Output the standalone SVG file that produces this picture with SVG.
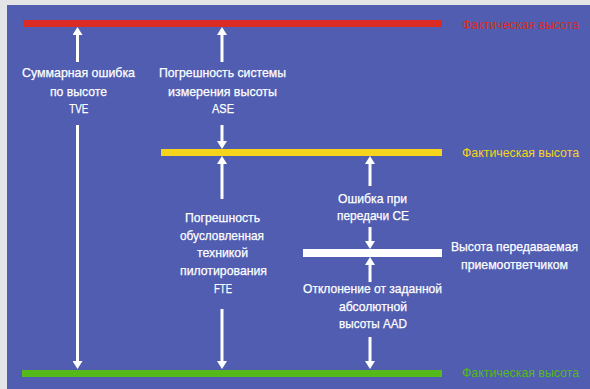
<svg xmlns="http://www.w3.org/2000/svg" width="590" height="389" viewBox="0 0 590 389">
<defs>
<style>
text{font-family:"Liberation Sans",Arial,sans-serif;font-size:13px;text-anchor:middle;fill:#ffffff;stroke:#ffffff;stroke-width:0.25}
.fact{text-anchor:start;font-size:13.5px;stroke:none}
.conn line{stroke:#ffffff;stroke-width:3;marker-end:url(#head)}
</style>
<marker id="head" markerUnits="userSpaceOnUse" viewBox="0 0 8 10" refX="0" refY="5" markerWidth="8" markerHeight="10" orient="auto">
<path d="M0,0 L8,5 L0,10 z" fill="#ffffff"/>
</marker>
</defs>
<rect x="0" y="0" width="590" height="389" fill="#e2e4e6"/>
<rect x="7" y="5" width="583" height="384" fill="#505db1"/>
<g id="level-red">
<rect x="23" y="20" width="419" height="7" fill="#da2b24"/>
<text class="fact" x="462" y="29" style="fill:#da2b24" textLength="117" lengthAdjust="spacingAndGlyphs">Фактическая высота</text>
</g>
<g id="level-yellow">
<rect x="161" y="149" width="281" height="7" fill="#f6d41b"/>
<text class="fact" x="462" y="157" style="fill:#f6d41b" textLength="117" lengthAdjust="spacingAndGlyphs">Фактическая высота</text>
</g>
<g id="level-white">
<rect x="303" y="249" width="139" height="8" fill="#ffffff"/>
<text x="514.5" y="251" textLength="127" lengthAdjust="spacingAndGlyphs">Высота передаваемая</text>
<text x="514.5" y="269" textLength="107" lengthAdjust="spacingAndGlyphs">приемоответчиком</text>
</g>
<g id="level-green">
<rect x="22" y="370" width="420" height="7" fill="#55b91b"/>
<text class="fact" x="462" y="377" style="fill:#55b91b" textLength="117" lengthAdjust="spacingAndGlyphs">Фактическая высота</text>
</g>
<g id="label-tve">
<text x="78.5" y="77" textLength="113" lengthAdjust="spacingAndGlyphs">Суммарная ошибка</text>
<text x="78.5" y="96" textLength="57" lengthAdjust="spacingAndGlyphs">по высоте</text>
<text x="78.8" y="113" textLength="19" lengthAdjust="spacingAndGlyphs">TVE</text>
</g>
<g id="label-ase">
<text x="222.5" y="77" textLength="127" lengthAdjust="spacingAndGlyphs">Погрешность системы</text>
<text x="222.5" y="96" textLength="109" lengthAdjust="spacingAndGlyphs">измерения высоты</text>
<text x="223" y="113" textLength="22" lengthAdjust="spacingAndGlyphs">ASE</text>
</g>
<g id="label-fte">
<text x="222.5" y="222" textLength="75" lengthAdjust="spacingAndGlyphs">Погрешность</text>
<text x="222" y="240" textLength="84" lengthAdjust="spacingAndGlyphs">обусловленная</text>
<text x="222.5" y="257" textLength="51" lengthAdjust="spacingAndGlyphs">техникой</text>
<text x="223.5" y="275" textLength="87" lengthAdjust="spacingAndGlyphs">пилотирования</text>
<text x="223" y="293" textLength="18" lengthAdjust="spacingAndGlyphs">FTE</text>
</g>
<g id="label-ce">
<text x="372.5" y="203" textLength="69" lengthAdjust="spacingAndGlyphs">Ошибка при</text>
<text x="373" y="220" textLength="72" lengthAdjust="spacingAndGlyphs">передачи CE</text>
</g>
<g id="label-aad">
<text x="372.5" y="293" textLength="139" lengthAdjust="spacingAndGlyphs">Отклонение от заданной</text>
<text x="373" y="311" textLength="68" lengthAdjust="spacingAndGlyphs">абсолютной</text>
<text x="373" y="328" textLength="68" lengthAdjust="spacingAndGlyphs">высоты AAD</text>
</g>
<g class="conn" id="connectors">
<line x1="77.5" y1="62" x2="77.5" y2="35"/>
<line x1="77.5" y1="125" x2="77.5" y2="361"/>
<line x1="222" y1="62" x2="222" y2="35"/>
<line x1="222" y1="125" x2="222" y2="141"/>
<line x1="222" y1="199" x2="222" y2="164"/>
<line x1="222" y1="309" x2="222" y2="361"/>
<line x1="370" y1="186" x2="370" y2="164"/>
<line x1="370" y1="227" x2="370" y2="241"/>
<line x1="370" y1="282" x2="370" y2="265"/>
<line x1="370" y1="337" x2="370" y2="361"/>
</g>
</svg>
